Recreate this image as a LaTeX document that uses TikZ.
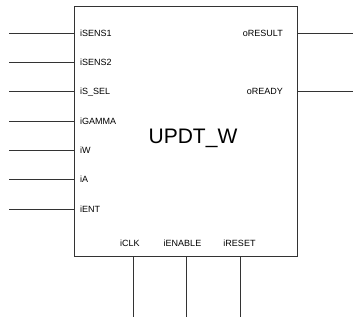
\documentclass[tikz,border=0pt]{standalone}
\usepackage{fontspec}
\setmainfont{Liberation Sans}
\usetikzlibrary{positioning,calc}
\definecolor{LineGray}{HTML}{333333}
\tikzset{
  fbox/.style  = {draw=LineGray, line width=0.8pt, minimum width=223pt,
                  minimum height=250pt, inner sep=0pt},
  fname/.style = {font=\fontsize{21}{24}\selectfont, inner sep=0pt},
  pinl/.style  = {font=\fontsize{9}{10}\selectfont, inner sep=0pt, anchor=base west},
  pinr/.style  = {font=\fontsize{9}{10}\selectfont, inner sep=0pt, anchor=base east},
  pinb/.style  = {font=\fontsize{9}{10}\selectfont, inner sep=0pt, anchor=base},
  wire/.style  = {draw=LineGray, line width=0.8pt},
}
\begin{document}
\begin{tikzpicture}[x=1pt, y=-1pt]
  \useasboundingbox (0,0) rectangle (354,322);
  % function block
  \node[fbox] (fb) at (185.5,131) {};
  \node[fname] (title) at (193,138.5) {UPDT\_W};
  % inputs
  \foreach \y/\txt [count=\i] in {33/iSENS1, 62/iSENS2, 91/iS\_SEL, 121/iGAMMA,
                                  150/iW, 179/iA, 209/iENT} {
    \node[pinl] (in\i) at (80,\y+3.5) {\txt};
    \coordinate (in\i-e) at (9,\y);
    \draw[wire] (in\i-e) -- (in\i-e -| fb.west);
  }
  % outputs
  \foreach \y/\txt [count=\i] in {33/oRESULT, 91/oREADY} {
    \node[pinr] (out\i) at (283,\y+3.5) {\txt};
    \coordinate (out\i-e) at (353,\y);
    \draw[wire] (out\i-e -| fb.east) -- (out\i-e);
  }
  % bottom inputs
  \foreach \x/\lx/\txt [count=\i] in {133/130/iCLK, 186/182.5/iENABLE, 240/239.5/iRESET} {
    \node[pinb] (bot\i) at (\lx,246.5) {\txt};
    \coordinate (bot\i-e) at (\x,317);
    \draw[wire] (bot\i-e |- fb.south) -- (bot\i-e);
  }
\end{tikzpicture}
\end{document}
